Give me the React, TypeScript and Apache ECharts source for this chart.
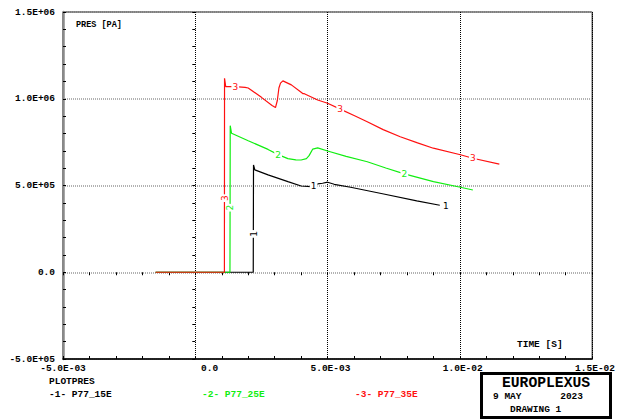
import React, { useEffect, useRef } from "react";
import * as echarts from "echarts";

// ---- data (time in s, pressure in Pa) ----
const seriesNames = ["P77_15E", "P77_25E", "P77_35E"];
const seriesColors = ["#000000", "#11ee11", "#ff1010"];

const time1 = [-1.5e-3, 2.19e-3, 2.2e-3, 2.25e-3, 2.75e-3, 3.5e-3, 4.0e-3, 4.37e-3, 4.5e-3, 4.625e-3, 4.81e-3, 5.0e-3, 5.25e-3, 5.87e-3, 7.12e-3, 8.37e-3, 9.24e-3];
const pres1 = [0, 0, 0.618e6, 0.59e6, 0.561e6, 0.522e6, 0.497e6, 0.493e6, 0.497e6, 0.509e6, 0.513e6, 0.519e6, 0.507e6, 0.49e6, 0.451e6, 0.411e6, 0.386e6];

const time2 = [-1.5e-3, 1.31e-3, 1.32e-3, 1.37e-3, 2.0e-3, 2.75e-3, 3.13e-3, 3.5e-3, 3.8e-3, 4.0e-3, 4.2e-3, 4.3e-3, 4.44e-3, 4.625e-3, 5.0e-3, 5.7e-3, 6.5e-3, 7.2e-3, 7.9e-3, 9.0e-3, 10.02e-3, 10.49e-3];
const pres2 = [0, 0, 0.845e6, 0.801e6, 0.758e6, 0.708e6, 0.678e6, 0.655e6, 0.648e6, 0.647e6, 0.655e6, 0.672e6, 0.71e6, 0.717e6, 0.699e6, 0.668e6, 0.637e6, 0.601e6, 0.567e6, 0.522e6, 0.49e6, 0.474e6];

const time3 = [-1.5e-3, 1.1e-3, 1.105e-3, 1.15e-3, 1.51e-3, 1.88e-3, 2.0e-3, 2.5e-3, 2.9e-3, 3.03e-3, 3.1e-3, 3.16e-3, 3.22e-3, 3.31e-3, 3.63e-3, 4.0e-3, 4.06e-3, 4.12e-3, 4.625e-3, 5.0e-3, 5.476e-3, 6.0e-3, 6.498e-3, 7.1e-3, 7.745e-3, 8.4e-3, 8.996e-3, 10.02e-3, 10.49e-3, 11.49e-3];
const pres3 = [0, 0, 1.118e6, 1.07e6, 1.07e6, 1.066e6, 1.062e6, 1.008e6, 0.961e6, 0.949e6, 0.99e6, 1.062e6, 1.09e6, 1.103e6, 1.08e6, 1.037e6, 1.03e6, 1.029e6, 0.993e6, 0.974e6, 0.94e6, 0.903e6, 0.867e6, 0.822e6, 0.781e6, 0.746e6, 0.715e6, 0.677e6, 0.657e6, 0.623e6];

// curve number labels: [time, pressure, rotation]
const labels1 = [[2.2e-3, 0.221e6, 90], [4.47e-3, 0.495e6, 0], [9.47e-3, 0.384e6, 0]];
const labels2 = [[1.315e-3, 0.372e6, 90], [3.13e-3, 0.678e6, 0], [7.9e-3, 0.567e6, 0]];
const labels3 = [[1.105e-3, 0.427e6, 90], [1.51e-3, 1.07e6, 0], [5.476e-3, 0.94e6, 0], [10.49e-3, 0.657e6, 0]];

const xTickLabels = ["-5.0E-03", "0.0", "5.0E-03", "1.0E-02", "1.5E-02"];
const yTickLabels = ["-5.0E+05", "0.0", "5.0E+05", "1.0E+06", "1.5E+06"];
const X_MIN = -0.005, X_MAX = 0.015, X_STEP = 0.005;
const Y_MIN = -500000, Y_MAX = 1500000, Y_STEP = 500000;

const MONO = "'Liberation Mono', 'DejaVu Sans Mono', monospace";
const FS = 9.5;
const CHAR_W = FS * 0.6;

export default function App() {
  const ref = useRef<HTMLDivElement>(null);

  useEffect(() => {
    if (!ref.current) return;
    const chart = echarts.init(ref.current, undefined, { renderer: "svg" });

    const times = [time1, time2, time3];
    const press = [pres1, pres2, pres3];
    const labs = [labels1, labels2, labels3];

    const rich: Record<string, any> = {};
    for (let k = 0; k <= 6; k++) {
      rich["p" + k] = {
        fontFamily: MONO,
        fontSize: FS,
        fontWeight: "bold",
        color: "#000",
        padding: [0, 0, 0, k * CHAR_W],
      };
    }

    const lineSeries: any[] = times.map((t, i) => ({
      type: "line",
      name: seriesNames[i],
      data: t.map((v, j) => [v, press[i][j]]),
      showSymbol: false,
      symbol: "none",
      lineStyle: { color: seriesColors[i], width: 1.2 },
      itemStyle: { color: seriesColors[i] },
      z: 3 + i,
    }));

    const labelSeries: any[] = labs.map((arr, i) => {
      const lab = {
        show: true,
        position: "inside",
        formatter: String(i + 1),
        color: seriesColors[i],
        textBorderWidth: 0,
        textBorderColor: "transparent",
        fontFamily: "'DejaVu Sans', sans-serif",
        fontSize: 9,
        backgroundColor: "#fff",
        padding: [0, 1],
      };
      return {
        type: "scatter",
        name: seriesNames[i] + " labels",
        symbol: "circle",
        symbolSize: 1,
        itemStyle: { color: seriesColors[i], opacity: 1, borderWidth: 0 },
        z: 10,
        data: arr.map((d) => ({
          value: [d[0], d[1]],
          label: { ...lab, rotate: d[2] },
        })),
        label: lab,
      };
    });

    const texts: any[] = [
      { type: "text", x: 76, y: 25, style: { text: "PRES [PA]", font: `bold 8.5px ${MONO}`, fill: "#000", verticalAlign: "middle" } },
      { type: "text", x: 517, y: 344, style: { text: "TIME [S]", font: `bold ${FS}px ${MONO}`, fill: "#000", verticalAlign: "middle" } },
      { type: "text", x: 49, y: 381, style: { text: "PLOTPRES", font: `bold ${FS}px ${MONO}`, fill: "#000", verticalAlign: "middle" } },
      ...seriesNames.map((n, i) => ({
        type: "text",
        x: 49 + i * 153,
        y: 394,
        style: { text: `-${i + 1}- ${n}`, font: `bold ${FS}px ${MONO}`, fill: seriesColors[i], verticalAlign: "middle" },
      })),
      { type: "rect", shape: { x: 481.5, y: 373.5, width: 129, height: 44 }, style: { fill: "#fff", stroke: "#000", lineWidth: 3 } },
      { type: "text", x: 546, y: 383, style: { text: "EUROPLEXUS", font: `bold 14.7px ${MONO}`, fill: "#000", align: "center", verticalAlign: "middle" } },
      { type: "text", x: 493, y: 396, style: { text: "9 MAY", font: `bold ${FS}px ${MONO}`, fill: "#000", verticalAlign: "middle" } },
      { type: "text", x: 583, y: 396, style: { text: "2023", font: `bold ${FS}px ${MONO}`, fill: "#000", align: "right", verticalAlign: "middle" } },
      { type: "text", x: 510, y: 409, style: { text: "DRAWING 1", font: `bold ${FS}px ${MONO}`, fill: "#000", verticalAlign: "middle" } },
    ];

    const tickCommon = { show: true, inside: true, length: 3, lineStyle: { color: "#000", width: 1 } };
    const minorCommon = { show: true, splitNumber: 5, length: 3, lineStyle: { color: "#000", width: 1 } };

    chart.setOption({
      animation: false,
      backgroundColor: "#fff",
      grid: { left: 63, right: 21, top: 12, bottom: 60, show: true, borderColor: "#000", borderWidth: 1, backgroundColor: "transparent" },
      xAxis: [
        {
          type: "value",
          min: X_MIN,
          max: X_MAX,
          interval: X_STEP,
          position: "bottom",
          axisLine: { show: true, onZero: false, lineStyle: { color: "#000", width: 1.5 } },
          axisTick: tickCommon,
          minorTick: minorCommon,
          splitLine: { show: true, lineStyle: { color: "#000", width: 1, type: [1, 1] } },
          axisLabel: {
            margin: 4,
            formatter: (v: number) => {
              const s = xTickLabels[Math.round((v - X_MIN) / X_STEP)] ?? "";
              const pad = Math.max(0, 8 - s.length);
              return `{p${pad}|${s}}`;
            },
            rich,
          },
        },
        {
          type: "value",
          min: X_MIN,
          max: X_MAX,
          interval: X_STEP,
          position: "top",
          axisLine: { show: false },
          axisTick: tickCommon,
          minorTick: minorCommon,
          splitLine: { show: false },
          axisLabel: { show: false },
        },
      ],
      yAxis: [
        {
          type: "value",
          min: Y_MIN,
          max: Y_MAX,
          interval: Y_STEP,
          position: "left",
          axisLine: { show: true, onZero: false, lineStyle: { color: "#8a8a8a", width: 2.5 } },
          axisTick: tickCommon,
          minorTick: minorCommon,
          splitLine: { show: true, lineStyle: { color: "#999", width: 1.5, type: [1, 1] } },
          axisLabel: {
            margin: 8,
            fontFamily: MONO,
            fontSize: FS,
            fontWeight: "bold",
            color: "#000",
            formatter: (v: number) => yTickLabels[Math.round((v - Y_MIN) / Y_STEP)] ?? "",
          },
        },
        {
          type: "value",
          min: Y_MIN,
          max: Y_MAX,
          interval: Y_STEP,
          position: "right",
          axisLine: { show: false },
          axisTick: tickCommon,
          minorTick: minorCommon,
          splitLine: { show: false },
          axisLabel: { show: false },
        },
      ],
      series: [...lineSeries, ...labelSeries],
      graphic: { elements: texts },
    });

    return () => chart.dispose();
  }, []);

  return <div ref={ref} style={{ position: "absolute", left: 0, top: 0, width: 618, height: 419 }} />;
}
